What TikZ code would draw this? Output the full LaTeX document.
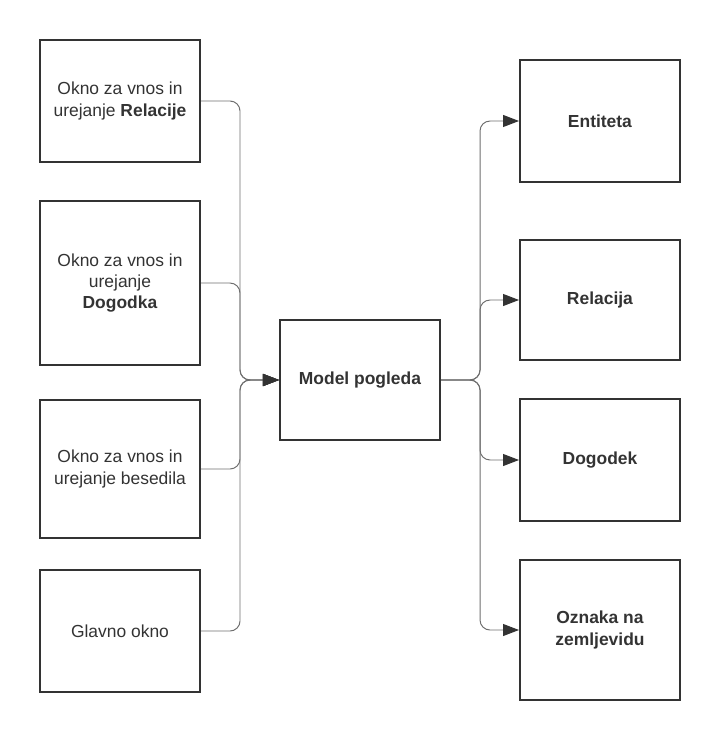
\documentclass[tikz,border=0pt]{standalone}
\usepackage{fontspec}
\setmainfont{Liberation Sans}
\usetikzlibrary{arrows.meta}
\definecolor{rob}{HTML}{333333}
\definecolor{crta}{HTML}{6E6E6E}
\tikzset{
    okno/.style={draw=rob, line width=1.4pt, text=rob, align=center,
        minimum width=4cm, inner sep=2pt,
        font=\fontsize{12.4}{15}\selectfont},
    povezava/.style={draw=crta, line width=0.7pt, rounded corners=0.25cm,
        -{Triangle[length=0.4cm, width=0.3cm, color=rob]}}
}
\begin{document}
\begin{tikzpicture}[x=0.025cm, y=-0.025cm]
    \useasboundingbox (0,0) rectangle (720,741);
    % levi stolpec
    \node[okno, minimum height=3.05cm] (vnosRel) at (120,101) {Okno za vnos in\\urejanje \textbf{Relacije}};
    \node[okno, minimum height=4.1cm] (vnosDog) at (120,283) {Okno za vnos in\\urejanje\\\textbf{Dogodka}};
    \node[okno, minimum height=3.43cm] (vnosBes) at (120,469) {Okno za vnos in\\urejanje besedila};
    \node[okno, minimum height=3.05cm] (glavno) at (120,631) {Glavno okno};
    % sredina
    \node[okno, minimum height=3cm] (model) at (360,380) {\textbf{Model pogleda}};
    % desni stolpec
    \node[okno, minimum height=3.05cm] (entiteta) at (600,121) {\textbf{Entiteta}};
    \node[okno, minimum height=3cm] (relacija) at (600,300) {\textbf{Relacija}};
    \node[okno, minimum height=3.03cm] (dogodek) at (600,460) {\textbf{Dogodek}};
    \node[okno, minimum height=3.5cm] (oznaka) at (600,630) {\textbf{Oznaka na}\\\textbf{zemljevidu}};
    \coordinate (zbirL) at (240,380);
    \coordinate (zbirD) at (480,380);
    % povezave
    \foreach \n in {vnosRel,vnosDog,vnosBes,glavno}
        \draw[povezava] (\n.east) -| (zbirL) -- (model.west);
    \foreach \n in {entiteta,relacija,dogodek,oznaka}
        \draw[povezava] (model.east) -- (zbirD) |- (\n.west);
\end{tikzpicture}
\end{document}
